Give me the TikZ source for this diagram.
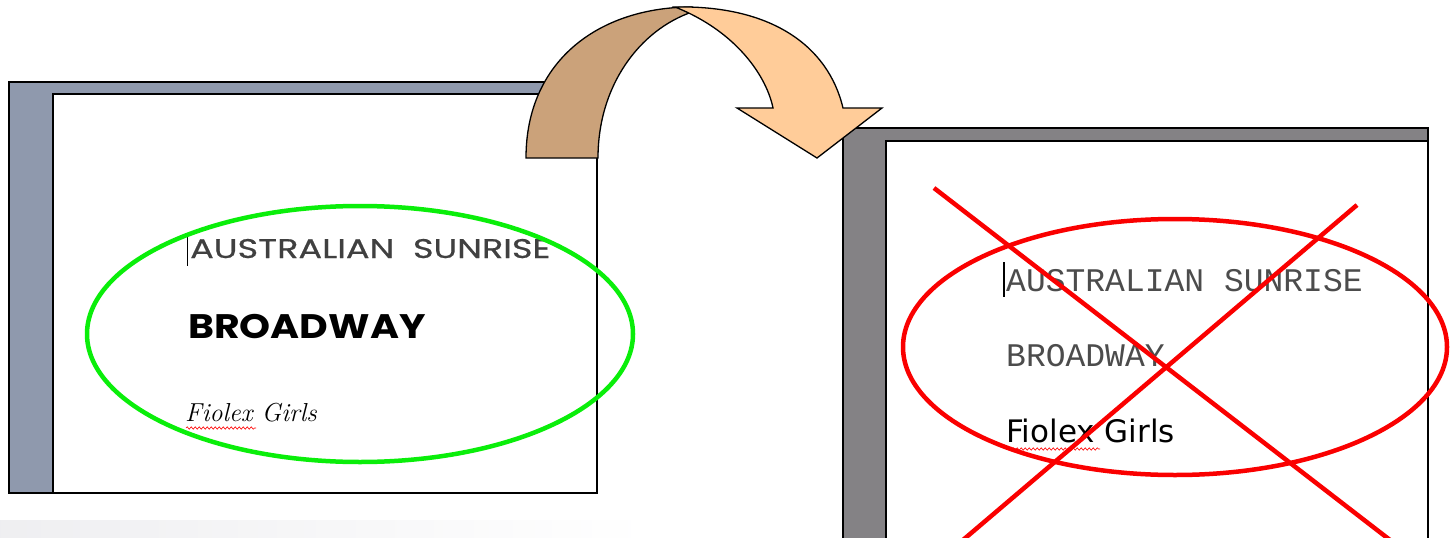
\documentclass[tikz,border=0pt]{standalone}
\usepackage{fontspec}
\usetikzlibrary{decorations.pathmorphing}
\newfontfamily\sunrisefont[FakeStretch=1.3,FakeBold=0.6]{Poppins}
\newfontfamily\decofont[FakeStretch=1.16]{Poppins}
\newfontfamily\typefont{Liberation Mono}
\newfontfamily\plainfont{DejaVu Sans}
\definecolor{slatepage}{RGB}{143,153,173}
\definecolor{greypage}{RGB}{132,130,133}
\definecolor{arrowback}{RGB}{203,162,122}
\definecolor{arrowfront}{RGB}{255,204,153}
\definecolor{okgreen}{RGB}{10,238,10}
\definecolor{badred}{RGB}{250,0,0}
\tikzset{
  frame/.style={draw=black,line width=1.3pt},
  ring/.style={line width=4.5pt},
  cross/.style={draw=badred,line width=4.5pt},
  sample/.style={anchor=base west,inner sep=0pt},
  spellmark/.style={draw=red,line width=0.6pt,decorate,
    decoration={snake,amplitude=1.2pt,segment length=4pt}},
}

\begin{document}
\begin{tikzpicture}[x=1pt,y=-1pt]
\useasboundingbox (0,0) rectangle (1452,538);
\shade[left color=blue!8!gray!12,right color=white] (0,520) rectangle (650,538);

\filldraw[frame,fill=slatepage] (9,82) rectangle (597,493);
\filldraw[frame,fill=white] (53,94) rectangle (597,493);
\filldraw[frame,fill=greypage] (843,128) rectangle (1428,560);
\filldraw[frame,fill=white] (886,141) rectangle (1428,560);

\filldraw[line width=1.3pt,fill=arrowback]
  (526,158) .. controls (526,60) and (600,7) .. (692,7) -- (692,12)
  .. controls (640,30) and (598,85) .. (598,158) -- cycle;
\filldraw[line width=1.3pt,fill=arrowfront,line join=miter]
  (675,7) .. controls (770,5) and (828,45) .. (843,108)
  -- (882,108) -- (817,158) -- (737,108) -- (773,108)
  .. controls (767,78) and (738,32) .. (675,7) -- cycle;

\node[sample,text=black!75] (ausL) at (190,258)
  {\sunrisefont\fontsize{27}{30}\selectfont AUSTRALIAN\ \ SUNRISE};
\node[sample] (broadL) at (188,338)
  {\decofont\bfseries\fontsize{34}{36}\selectfont BROADWAY};
\node[sample] (fioL) at (185,421)
  {\itshape\fontsize{26}{30}\selectfont Fiolex Girls};
\coordinate (caretLa) at (187,236);
\coordinate (caretLb) at (187,266);
\draw[line width=1pt] (caretLa) -- (caretLb);
\coordinate (wavyLa) at (186,428);
\coordinate (wavyLb) at (256,428);
\draw[spellmark] (wavyLa) -- (wavyLb);
\draw[ring,draw=okgreen] (360,334) ellipse [x radius=273,y radius=128];

\node[sample,text=black!70] (ausR) at (1006,291)
  {\typefont\fontsize{33}{36}\selectfont AUSTRALIAN SUNRISE};
\node[sample,text=black!70] (broadR) at (1006,366)
  {\typefont\fontsize{33}{36}\selectfont BROADWAY};
\node[sample] (fioR) at (1006,442)
  {\plainfont\fontsize{31}{33}\selectfont Fiolex Girls};
\coordinate (caretRa) at (1004,262);
\coordinate (caretRb) at (1004,297);
\draw[line width=1.2pt] (caretRa) -- (caretRb);
\coordinate (wavyRa) at (1008,449);
\coordinate (wavyRb) at (1100,449);
\draw[spellmark] (wavyRa) -- (wavyRb);
\draw[ring,draw=badred] (1175,347) ellipse [x radius=272,y radius=128];

\coordinate (crossA) at (934,188);
\coordinate (crossB) at (1390,540);
\coordinate (crossC) at (1357,205);
\coordinate (crossD) at (963,540);
\draw[cross] (crossA) -- (crossB);
\draw[cross] (crossC) -- (crossD);
\end{tikzpicture}
\end{document}
